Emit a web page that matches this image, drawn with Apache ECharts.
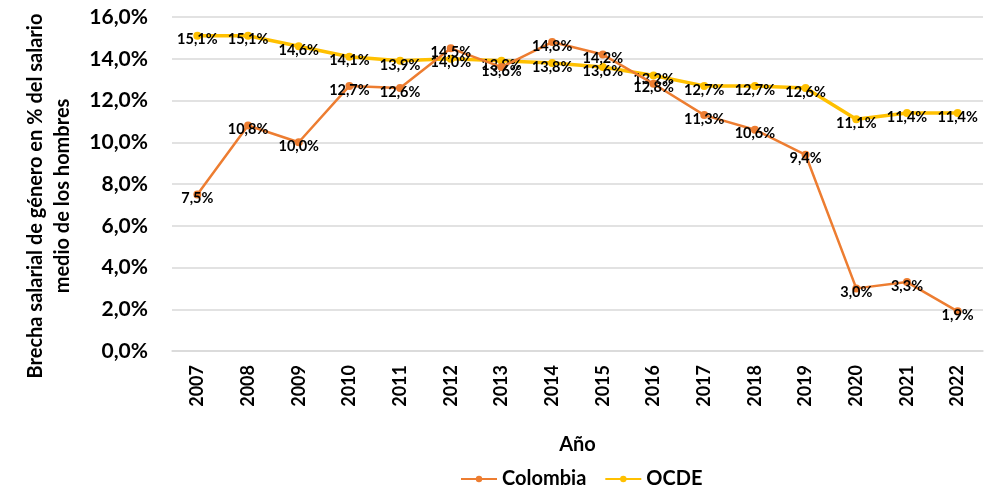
<!DOCTYPE html>
<html><head><meta charset="utf-8">
<script src="https://cdn.jsdelivr.net/npm/echarts@6/dist/echarts.min.js"></script>
<style>html,body{margin:0;padding:0;background:#fff}#c{width:1000px;height:500px}</style>
</head><body><div id="c"></div>
<script>
const years = ['2007','2008','2009','2010','2011','2012','2013','2014','2015','2016','2017','2018','2019','2020','2021','2022'];
const colombia = [7.5,10.8,10.0,12.7,12.6,14.5,13.6,14.8,14.2,12.8,11.3,10.6,9.4,3.0,3.3,1.9];
const ocde = [15.1,15.1,14.6,14.1,13.9,14.0,13.9,13.8,13.6,13.2,12.7,12.7,12.6,11.1,11.4,11.4];
const FONT = 'Lato, "Open Sans", sans-serif';
const fmt = v => v.toFixed(1).replace('.', ',') + '%';
const chart = echarts.init(document.getElementById('c'));
const lbl = {show:true, position:'inside', offset:[0,4], formatter:p=>fmt(p.value), color:'#000', fontFamily:FONT, fontWeight:'bold', fontSize:14.5};
chart.setOption({
  animation:false,
  textStyle:{fontFamily:FONT},
  grid:{left:172, right:17, top:17, bottom:149, containLabel:false, outerBoundsMode:'none'},
  legend:{bottom:6, left:455, itemGap:18, itemWidth:36, itemHeight:8,
    textStyle:{fontFamily:FONT, fontWeight:'bold', fontSize:20, color:'#000'},
    data:['Colombia','OCDE']},
  xAxis:{type:'category', data:years, boundaryGap:true,
    axisLine:{show:true, lineStyle:{color:'#d9d9d9', width:1.5}}, axisTick:{show:false},
    axisLabel:{rotate:90, fontFamily:FONT, fontWeight:'bold', fontSize:18, color:'#000', margin:14},
    name:'Año', nameLocation:'middle', nameGap:84,
    nameTextStyle:{fontFamily:FONT, fontWeight:'bold', fontSize:20, color:'#000'}},
  yAxis:{type:'value', min:0, max:16, interval:2,
    axisLine:{show:false}, axisTick:{show:false},
    splitLine:{lineStyle:{color:'#d9d9d9', width:1.5}},
    axisLabel:{formatter:v=>v.toFixed(1).replace('.', ',')+'%', fontFamily:FONT, fontWeight:'bold', fontSize:21, color:'#000', margin:24},
    name:'Brecha salarial de género en % del salario\nmedio de los hombres', nameLocation:'middle', nameGap:96,
    nameTextStyle:{fontFamily:FONT, fontWeight:'bold', fontSize:20, color:'#000', lineHeight:27, padding:[0,24,0,0]}},
  series:[
    {name:'Colombia', type:'line', data:colombia, color:'#ED7D31', symbol:'circle', symbolSize:8,
     lineStyle:{width:2.5, color:'#ED7D31'}, itemStyle:{color:'#ED7D31'}, label:lbl, z:3},
    {name:'OCDE', type:'line', data:ocde, color:'#FFC000', symbol:'circle', symbolSize:8,
     lineStyle:{width:3.5, color:'#FFC000'}, itemStyle:{color:'#FFC000'}, label:lbl, z:2}
  ]
});
</script></body></html>
